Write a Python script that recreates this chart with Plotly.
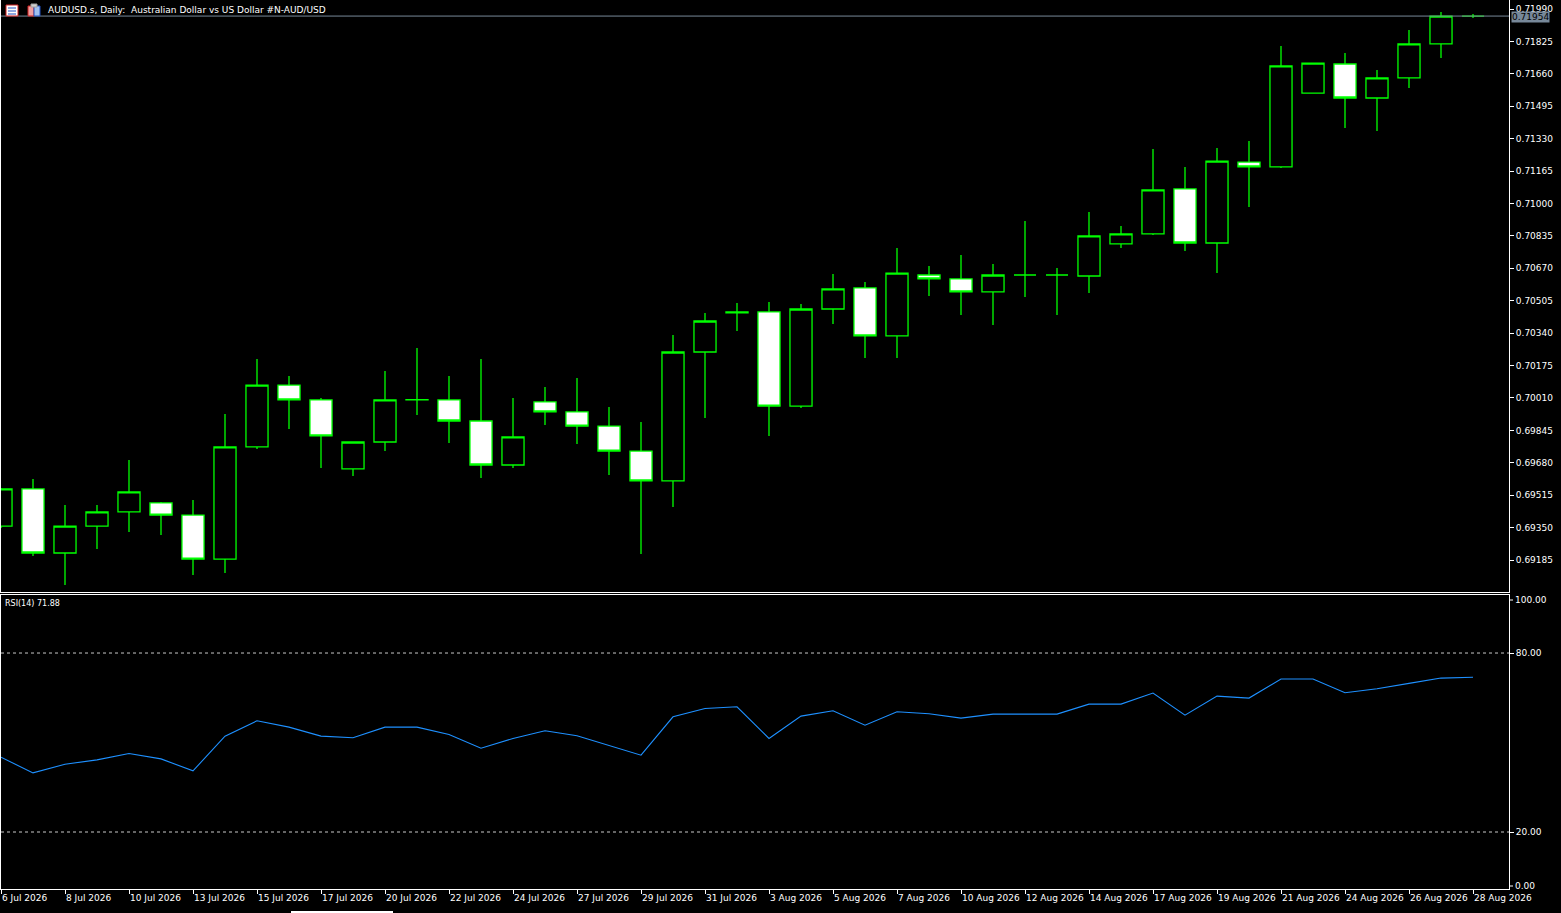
import plotly.graph_objects as go

# ---------------- data ----------------
dates = ["6 Jul 2026", "7 Jul 2026", "8 Jul 2026", "9 Jul 2026", "10 Jul 2026", "12 Jul 2026",
         "13 Jul 2026", "14 Jul 2026", "15 Jul 2026", "16 Jul 2026", "17 Jul 2026", "19 Jul 2026",
         "20 Jul 2026", "21 Jul 2026", "22 Jul 2026", "23 Jul 2026", "24 Jul 2026", "26 Jul 2026",
         "27 Jul 2026", "28 Jul 2026", "29 Jul 2026", "30 Jul 2026", "31 Jul 2026", "2 Aug 2026",
         "3 Aug 2026", "4 Aug 2026", "5 Aug 2026", "6 Aug 2026", "7 Aug 2026", "9 Aug 2026",
         "10 Aug 2026", "11 Aug 2026", "12 Aug 2026", "13 Aug 2026", "14 Aug 2026", "16 Aug 2026",
         "17 Aug 2026", "18 Aug 2026", "19 Aug 2026", "20 Aug 2026", "21 Aug 2026", "23 Aug 2026",
         "24 Aug 2026", "25 Aug 2026", "26 Aug 2026", "27 Aug 2026", "28 Aug 2026"]

opens = [0.69358, 0.69547, 0.69221, 0.69358, 0.69430, 0.69476, 0.69414, 0.69190, 0.69761, 0.70076,
         0.70000, 0.69649, 0.69786, 0.70000, 0.70000, 0.69893, 0.69669, 0.69990, 0.69939, 0.69867,
         0.69740, 0.69588, 0.70244, 0.70443, 0.70448, 0.69969, 0.70463, 0.70570, 0.70326, 0.70636,
         0.70616, 0.70550, 0.70636, 0.70636, 0.70631, 0.70794, 0.70845, 0.71074, 0.70799, 0.71211,
         0.71186, 0.71562, 0.71710, 0.71537, 0.71639, 0.71812, 0.71954]
highs = [0.69552, 0.69598, 0.69465, 0.69465, 0.69694, 0.69481, 0.69491, 0.69929, 0.70209, 0.70122,
         0.70010, 0.69786, 0.70147, 0.70265, 0.70122, 0.70209, 0.70010, 0.70066, 0.70112, 0.69964,
         0.69888, 0.70331, 0.70443, 0.70494, 0.70499, 0.70488, 0.70641, 0.70600, 0.70773, 0.70682,
         0.70738, 0.70692, 0.70911, 0.70672, 0.70957, 0.70886, 0.71277, 0.71186, 0.71283, 0.71318,
         0.71802, 0.71715, 0.71766, 0.71680, 0.71883, 0.71975, 0.71965]
lows = [0.69348, 0.69206, 0.69058, 0.69241, 0.69328, 0.69313, 0.69109, 0.69119, 0.69750, 0.69852,
        0.69654, 0.69613, 0.69740, 0.69924, 0.69781, 0.69603, 0.69654, 0.69873, 0.69776, 0.69618,
        0.69216, 0.69455, 0.69908, 0.70351, 0.69817, 0.69959, 0.70387, 0.70214, 0.70214, 0.70529,
        0.70432, 0.70382, 0.70524, 0.70432, 0.70544, 0.70773, 0.70840, 0.70758, 0.70646, 0.70982,
        0.71181, 0.71562, 0.71384, 0.71369, 0.71588, 0.71741, 0.71944]
closes = [0.69547, 0.69221, 0.69358, 0.69430, 0.69532, 0.69414, 0.69190, 0.69761, 0.70076, 0.70000,
          0.69817, 0.69786, 0.70000, 0.70001, 0.69893, 0.69669, 0.69812, 0.69939, 0.69867, 0.69740,
          0.69588, 0.70244, 0.70402, 0.70448, 0.69969, 0.70463, 0.70565, 0.70326, 0.70646, 0.70616,
          0.70550, 0.70636, 0.70636, 0.70636, 0.70835, 0.70845, 0.71069, 0.70799, 0.71216, 0.71186,
          0.71700, 0.71715, 0.71537, 0.71639, 0.71812, 0.71954, 0.71954]

rsi = [45.07, 39.81, 42.72, 44.18, 46.31, 44.51, 40.49, 52.13, 57.28, 55.15,
       52.13, 51.57, 55.15, 55.15, 52.69, 48.10, 51.34, 53.92, 52.24, 49.10,
       45.75, 58.62, 61.42, 61.98, 51.34, 58.84, 60.63, 55.82, 60.30, 59.63,
       58.17, 59.51, 59.51, 59.51, 62.87, 62.87, 66.57, 59.18, 65.56, 64.89,
       71.27, 71.27, 66.68, 68.02, 69.81, 71.60, 71.88]

price_ticks = ["0.71990", "0.71825", "0.71660", "0.71495", "0.71330", "0.71165", "0.71000",
               "0.70835", "0.70670", "0.70505", "0.70340", "0.70175", "0.70010", "0.69845",
               "0.69680", "0.69515", "0.69350", "0.69185"]
rsi_ticks = ["80.00", "20.00"]
rsi_levels = [80, 20]
current_price = 0.71954
title_text = "AUDUSD.s, Daily:  Australian Dollar vs US Dollar #N-AUD/USD"
rsi_label = "RSI(14) 71.88"

# ---------------- layout geometry ----------------
W, H = 1561, 913
ML, MR, MT, MB = 1, 52, 0, 24
PW = W - ML - MR
PH = H - MT - MB


def px(x):
    return (x - ML) / PW


def py(y):
    return (PH - (y - MT)) / PH


FONT = "DejaVu Sans"
WHITE = "#ffffff"
GREEN = "#00ff00"
idx = list(range(len(dates)))
xr = [0, PW / 32.0]

fig = go.Figure()

fig.add_trace(go.Candlestick(
    x=idx, open=opens, high=highs, low=lows, close=closes,
    increasing=dict(line=dict(color=GREEN, width=1.3), fillcolor="#000000"),
    decreasing=dict(line=dict(color=GREEN, width=1.3), fillcolor="#ffffff"),
    xaxis="x", yaxis="y", showlegend=False, hoverinfo="skip",
))

fig.add_trace(go.Scatter(
    x=idx, y=rsi, mode="lines", line=dict(color="#1e90ff", width=1.1),
    xaxis="x2", yaxis="y2", showlegend=False, hoverinfo="skip",
))

main_bottom = py(592)
rsi_top = py(595)

tick_idx = idx[::2]
fig.update_layout(
    width=W, height=H,
    margin=dict(l=ML, r=MR, t=MT, b=MB, pad=0, autoexpand=False),
    paper_bgcolor="#000000", plot_bgcolor="#000000",
    font=dict(family=FONT, size=9, color=WHITE),
    boxgap=0.31, boxgroupgap=0,
    xaxis=dict(domain=[0, 1], range=xr, anchor="y", showticklabels=False,
               showgrid=False, zeroline=False, showline=True, linecolor=WHITE,
               linewidth=1, rangeslider=dict(visible=False), ticks=""),
    xaxis2=dict(domain=[0, 1], range=xr, anchor="y2", matches="x",
                tickmode="array", tickvals=tick_idx, ticktext=[dates[i] for i in tick_idx],
                ticks="outside", ticklen=4, tickcolor=WHITE, tickwidth=1, tickangle=0,
                ticklabelposition="outside right",
                tickfont=dict(family=FONT, size=9, color=WHITE),
                showgrid=False, zeroline=False, showline=True, mirror=True,
                linecolor=WHITE, linewidth=1, automargin=False),
    yaxis=dict(domain=[main_bottom, 1], range=[0.690225, 0.720358], side="right",
               tickmode="array", tickvals=[float(t) for t in price_ticks], ticktext=price_ticks,
               ticks="outside", ticklen=4, tickcolor=WHITE,
               tickfont=dict(family=FONT, size=9, color=WHITE),
               showgrid=False, zeroline=False, showline=True, mirror=True,
               linecolor=WHITE, linewidth=1, automargin=False),
    yaxis2=dict(domain=[0, rsi_top], range=[0.89, 99.45], side="right",
                tickmode="array", tickvals=rsi_levels, ticktext=rsi_ticks,
                ticks="outside", ticklen=4, tickcolor=WHITE,
                tickfont=dict(family=FONT, size=9, color=WHITE),
                showgrid=False, zeroline=False, showline=True, mirror=True,
                linecolor=WHITE, linewidth=1, automargin=False),
)

shapes = []
# RSI dotted levels
for lv in rsi_levels:
    shapes.append(dict(type="line", xref="x2 domain", yref="y2", x0=0, x1=1, y0=lv, y1=lv,
                       line=dict(color="#c8c8c8", width=1, dash="dot")))
# current price line
shapes.append(dict(type="line", xref="x domain", yref="y", x0=0, x1=1,
                   y0=current_price, y1=current_price, line=dict(color="#778899", width=1)))
# RSI 100/0 tick marks
for yy in (600, 886):
    shapes.append(dict(type="line", xref="paper", yref="paper", x0=1, x1=px(1513),
                       y0=py(yy), y1=py(yy), line=dict(color=WHITE, width=1)))
# scrollbar thumb at bottom
shapes.append(dict(type="rect", xref="paper", yref="paper", x0=px(291), x1=px(393),
                   y0=py(913), y1=py(911), line=dict(width=0), fillcolor=WHITE))
# header icons
shapes.append(dict(type="rect", xref="paper", yref="paper", x0=px(6), x1=px(18),
                   y0=py(16), y1=py(5), line=dict(color="#d02020", width=1), fillcolor="#ffffff"))
for yy in (8, 11, 14):
    shapes.append(dict(type="line", xref="paper", yref="paper", x0=px(8), x1=px(16),
                       y0=py(yy), y1=py(yy), line=dict(color="#2050c0", width=1)))
shapes.append(dict(type="rect", xref="paper", yref="paper", x0=px(28), x1=px(34),
                   y0=py(16), y1=py(6), line=dict(color="#d02020", width=1), fillcolor="#f0a0a0"))
shapes.append(dict(type="rect", xref="paper", yref="paper", x0=px(34), x1=px(40),
                   y0=py(16), y1=py(6), line=dict(color="#2050c0", width=1), fillcolor="#a0c0f0"))
shapes.append(dict(type="rect", xref="paper", yref="paper", x0=px(31), x1=px(37),
                   y0=py(7), y1=py(4), line=dict(color="#a0a0a0", width=1), fillcolor="#d0d0d0"))
fig.update_layout(shapes=shapes)

annotations = [
    dict(text=title_text, xref="paper", yref="paper", x=px(46), y=py(10), xanchor="left",
         yanchor="middle", showarrow=False, font=dict(family=FONT, size=9, color=WHITE)),
    dict(text=rsi_label, xref="paper", yref="paper", x=px(3), y=py(603), xanchor="left",
         yanchor="middle", showarrow=False, font=dict(family=FONT, size=8, color=WHITE)),
    dict(text="100.00", xref="paper", yref="paper", x=px(1513), y=py(600), xanchor="left",
         yanchor="middle", showarrow=False, font=dict(family=FONT, size=9, color=WHITE)),
    dict(text="0.00", xref="paper", yref="paper", x=px(1513), y=py(886), xanchor="left",
         yanchor="middle", showarrow=False, font=dict(family=FONT, size=9, color=WHITE)),
    dict(text="%.5f" % current_price, xref="paper", yref="y", x=px(1511), y=current_price,
         xanchor="left", yanchor="top", yshift=5, showarrow=False, bgcolor="#778899", borderpad=0,
         font=dict(family=FONT, size=9, color="#000000")),
]
fig.update_layout(annotations=annotations)

fig.write_html("out.html", config={"displayModeBar": False},
               post_script="document.body.style.margin='0px';document.body.style.overflow='hidden';")
